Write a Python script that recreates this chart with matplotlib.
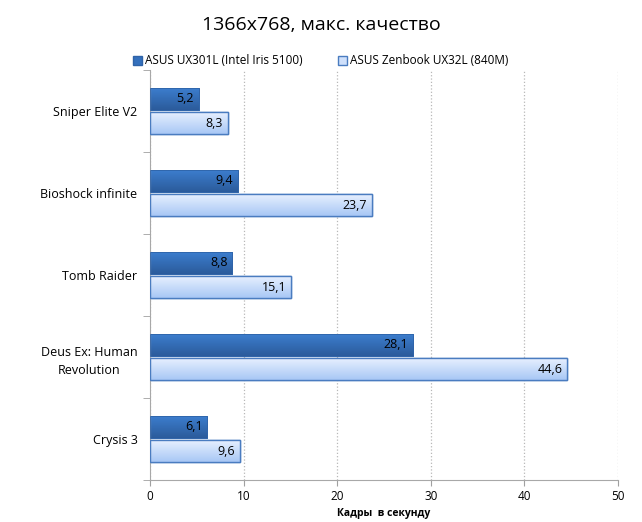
import numpy as np
import matplotlib
matplotlib.use('Agg')
import matplotlib.pyplot as plt
from matplotlib.patches import Patch
from matplotlib.colors import LinearSegmentedColormap

games = ['Sniper Elite V2', 'Bioshock infinite', 'Tomb Raider',
         'Deus Ex: Human\nRevolution', 'Crysis 3']
ux301 = [5.2, 9.4, 8.8, 28.1, 6.1]
ux32 = [8.3, 23.7, 15.1, 44.6, 9.6]
series_names = ['ASUS UX301L (Intel Iris 5100)', 'ASUS Zenbook UX32L (840M)']

plt.rcParams['font.family'] = ['Open Sans', 'DejaVu Sans']


def gradient_fill(ax, bars, top, bottom):
    cmap = LinearSegmentedColormap.from_list('g', [top, bottom])
    grad = np.linspace(0, 1, 64).reshape(-1, 1)
    for bar in bars:
        x0, y0 = bar.get_x(), bar.get_y()
        w, hh = bar.get_width(), bar.get_height()
        im = ax.imshow(grad, cmap=cmap, aspect='auto', interpolation='bicubic',
                       extent=(x0, x0 + w, y0 + hh, y0), zorder=bar.get_zorder())
        im.set_clip_path(bar)


fig = plt.figure(figsize=(6.42, 5.22), dpi=100)
ax = fig.add_axes([150 / 642, 1 - 480 / 522, 468 / 642, 410 / 522])

y = np.arange(len(games))
h = 0.27
dark = '#3470bd'
light = '#cfe0fb'
edge = '#4a7cc0'

b1 = ax.barh(y - h / 2 - 0.012, ux301, height=h, color=dark, edgecolor='#2f63a8', lw=0.6)
b2 = ax.barh(y + h / 2 + 0.012, ux32, height=h, color=light, edgecolor=edge, lw=1.0)
gradient_fill(ax, b1, '#3d7fd0', '#2b5b9b')
gradient_fill(ax, b2, '#eaf2ff', '#a8c7f5')
for bar in list(b1) + list(b2):
    ax.add_patch(plt.Rectangle(bar.get_xy(), bar.get_width(), bar.get_height(),
                               fill=False, edgecolor=bar.get_edgecolor(),
                               lw=bar.get_linewidth(), zorder=3))

for bars, vals in ((b1, ux301), (b2, ux32)):
    for bar, v in zip(bars, vals):
        ax.text(bar.get_width() - 0.5, bar.get_y() + bar.get_height() / 2,
                str(v).replace('.', ','), ha='right', va='center',
                fontsize=9, color='black', zorder=4)

ax.set_xlim(0, 50)
ax.set_ylim(len(games) - 0.5, -0.5)
ax.set_xticks(range(0, 51, 10))
ax.set_yticks(y)
ax.set_yticklabels(games, fontsize=9, multialignment='center', linespacing=1.5)
ax.set_yticks(np.arange(-0.5, len(games)), minor=True)
ax.tick_params(axis='y', which='major', length=0, pad=9)
ax.tick_params(axis='y', which='minor', length=5, color='#a0a0a0')
ax.tick_params(axis='x', length=4, color='#a0a0a0', labelsize=8.5)
ax.grid(axis='x', linestyle=':', color='#b8b8b8', lw=0.9)
ax.set_axisbelow(True)
for s in ('top', 'right'):
    ax.spines[s].set_visible(False)
for s in ('left', 'bottom'):
    ax.spines[s].set_color('#a8a8a8')

ax.set_xlabel('Кадры  в секунду', fontsize=7.5, fontweight='bold', labelpad=3)
fig.text(0.5, 1 - 25 / 522, '1366x768, макс. качество', ha='center', va='center', fontsize=14)

handles = [Patch(facecolor=dark, edgecolor='#2f63a8'), Patch(facecolor=light, edgecolor=edge)]
fig.legend(handles, series_names, loc='center', bbox_to_anchor=(0.5, 1 - 61 / 522), ncol=2,
           frameon=False, fontsize=8.5, handlelength=0.7, handleheight=0.7,
           handletextpad=0.3, columnspacing=3)

fig.savefig('out.png', dpi=100)
